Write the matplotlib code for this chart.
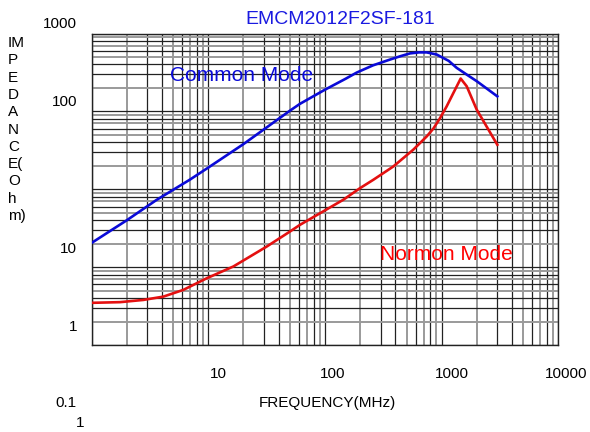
import matplotlib
matplotlib.use('Agg')
import matplotlib.pyplot as plt
from matplotlib.ticker import LogLocator, NullFormatter

plt.rcParams['font.family'] = ['Liberation Sans', 'DejaVu Sans']

# Impedance curves (freq in MHz, impedance in ohm)
cm_freq = [1, 2, 3.6, 6.9, 10, 20, 50, 61, 100, 150, 187, 258, 361, 450, 535, 640,
           745, 907, 1150, 1346, 1650, 2000, 3000]
cm_ohm = [2.05, 4.0, 7.3, 13.2, 19, 38, 102, 125, 190, 262, 315, 390, 463, 515, 555, 572,
          572, 537, 445, 362, 295, 244, 156]

nm_freq = [1, 1.75, 2.77, 4.11, 6.1, 9.7, 16.4, 31.7, 50, 61, 143.5, 200, 259, 385,
           571, 745, 848, 960, 1104, 1260, 1456, 1640, 2000, 3000]
nm_ohm = [0.348, 0.355, 0.379, 0.418, 0.51, 0.72, 1.02, 1.84, 2.86, 3.49, 7.33, 10.35, 13.2, 19.6,
          32.2, 47.7, 60, 80, 116, 172, 264, 210, 105, 37.3]

title = 'EMCM2012F2SF-181'
y_labels = ['1000', '100', '10', '1']
x_labels = ['10', '100', '1000', '10000']

W, H = 590, 432
fig = plt.figure(figsize=(W / 100, H / 100), dpi=100)
fig.patch.set_facecolor('white')

x0, x1, y0, y1 = 91.7, 558.3, 33.5, 345
ax = fig.add_axes([x0 / W, 1 - y1 / H, (x1 - x0) / W, (y1 - y0) / H])
ax.set_xscale('log')
ax.set_yscale('log')
ax.set_xlim(1, 10000)
ax.set_ylim(0.1, 1000)

# two-tone log grid, dark and grey lines like the scanned datasheet
for axis in (ax.xaxis, ax.yaxis):
    axis.set_major_locator(LogLocator(base=10, subs=(1, 3, 4, 6, 8), numticks=20))
    axis.set_minor_locator(LogLocator(base=10, subs=(2, 5, 7, 9), numticks=20))
    axis.set_major_formatter(NullFormatter())
    axis.set_minor_formatter(NullFormatter())
ax.tick_params(which='both', length=0)
ax.grid(True, which='major', color='#222222', linewidth=0.9)
ax.grid(True, which='minor', color='#9a9a9a', linewidth=1.4)
ax.set_axisbelow(True)
for s in ax.spines.values():
    s.set_color('#222222')
    s.set_linewidth(1.0)

ax.plot(cm_freq, cm_ohm, color='#0a0ad8', linewidth=1.9, zorder=3)
ax.plot(nm_freq, nm_ohm, color='#e41010', linewidth=1.9, zorder=3)

ax.text(0.167, 0.865, 'Common Mode', transform=ax.transAxes, color='#0a0ad8', fontsize=15,
        va='center', ha='left')
ax.text(0.617, 0.29, 'Normon Mode', transform=ax.transAxes, color='#ff0000', fontsize=15,
        va='center', ha='left')

# labels as they sit in the original (shifted from the grid)
fs = 11
fig.text(340.5 / W, 1 - 19 / H, title, color='#1a1ae0', fontsize=14, ha='center', va='center')
for lab, py in zip(y_labels, [23.5, 102.5, 249, 327]):
    fig.text(77 / W, 1 - py / H, lab, fontsize=fs, ha='right', va='center')
for lab, px in zip(x_labels, [218, 332.5, 451.5, 566]):
    fig.text(px / W, 1 - 374 / H, lab, fontsize=fs, ha='center', va='center')
fig.text(66 / W, 1 - 403 / H, '0.1', fontsize=fs, ha='center', va='center')
fig.text(80.5 / W, 1 - 423 / H, '1', fontsize=fs, ha='center', va='center')
fig.text(327.5 / W, 1 - 403.5 / H, 'FREQUENCY(MHz)', fontsize=fs, ha='center', va='center')
fig.text(8 / W, 1 - 36 / H, 'IM\nP\nE\nD\nA\nN\nC\nE(\nO\nh\nm)', fontsize=fs,
         ha='left', va='top', linespacing=1.3)

plt.savefig('out.png', dpi=100, facecolor='white')
